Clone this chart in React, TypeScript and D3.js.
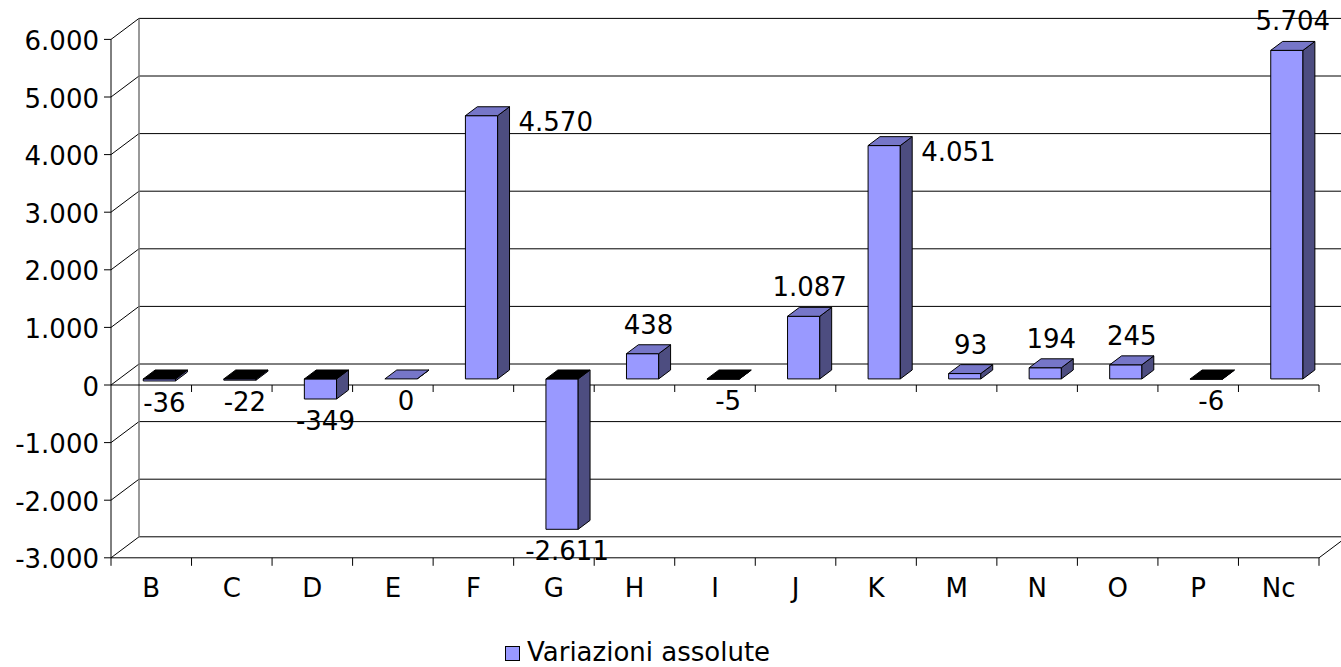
import React from "react";
import * as d3 from "d3";

const categories = ["B", "C", "D", "E", "F", "G", "H", "I", "J", "K", "M", "N", "O", "P", "Nc"];
const values = [-36, -22, -349, 0, 4570, -2611, 438, -5, 1087, 4051, 93, 194, 245, -6, 5704];
const labelsBeside = ["F", "K"];
const yTicks = [-3000, -2000, -1000, 0, 1000, 2000, 3000, 4000, 5000, 6000];
const seriesName = "Variazioni assolute";

const W = 1341;
const H = 667;
const DX = 28; // depth offset of the back wall
const DY = -21;
const F0 = 0.29; // bar front depth fraction
const DF = 0.425; // bar depth fraction
const FONT = "'DejaVu Sans', Verdana, sans-serif";
const FS = 26;

const FRONT = "#9999FF";
const TOP = "#7676C8";
const SIDE = "#4D4D80";

const locale = d3.formatLocale({
  decimal: ",",
  thousands: ".",
  grouping: [3],
  currency: ["€", ""],
  minus: "-",
});
const fmt = locale.format(",d");

export default function App() {
  const x = d3.scaleBand<string>().domain(categories).range([111, 1319]).padding(0);
  const y = d3.scaleLinear().domain([-3000, 6000]).range([557.8, 39.4]);
  const bw = x.bandwidth();
  const xL = 111;
  const xR = 1319;
  const yMin = y(-3000);
  const yMax = y(6000);
  const y0 = y(0);

  const ddx = DX * DF;
  const ddy = DY * DF;

  const bars = categories.map((c, i) => {
    const v = values[i];
    const bx0 = (x(c) as number) + bw * 0.3 + DX * F0;
    const bx1 = bx0 + bw * 0.4;
    const yt = y(Math.max(v, 0)) + DY * F0;
    const yb = y(Math.min(v, 0)) + DY * F0;
    return { c, v, bx0, bx1, yt, yb };
  });

  return (
    <svg
      width={W}
      height={H}
      style={{ position: "absolute", left: 0, top: 0, background: "#fff" }}
      fontFamily={FONT}
    >
      <rect x={0} y={0} width={W} height={H} fill="#fff" />
      {/* back wall gridlines */}
      {yTicks.map((t) => (
        <line key={"g" + t} x1={xL + DX} x2={xR + DX} y1={y(t) + DY} y2={y(t) + DY} stroke="#000" strokeWidth={1} />
      ))}
      {/* left wall diagonals */}
      {yTicks.map((t) => (
        <line key={"d" + t} x1={xL} x2={xL + DX} y1={y(t)} y2={y(t) + DY} stroke="#000" strokeWidth={1} />
      ))}
      {/* left wall back edge */}
      <line x1={xL + DX} x2={xL + DX} y1={yMax + DY} y2={yMin + DY} stroke="#777" strokeWidth={1.5} />
      {/* floor */}
      <line x1={xL} x2={xR} y1={yMin} y2={yMin} stroke="#000" />
      <line x1={xR} x2={xR + DX} y1={yMin} y2={yMin + DY} stroke="#000" />
      {/* front y axis */}
      <line x1={xL} x2={xL} y1={yMax} y2={yMin} stroke="#000" />
      {yTicks.map((t) => (
        <g key={"t" + t}>
          <line x1={xL - 7} x2={xL} y1={y(t)} y2={y(t)} stroke="#000" />
          <text x={99} y={y(t) + 10.5} textAnchor="end" fontSize={FS} fill="#000">
            {fmt(t)}
          </text>
        </g>
      ))}
      {/* zero plane front line */}
      <line x1={xL} x2={xR} y1={y0} y2={y0} stroke="#000" />
      {/* category ticks */}
      {categories.concat(["__end"]).map((c, i) => {
        const tx = xL + i * bw;
        return (
          <g key={"ct" + i}>
            {i > 0 && <line x1={tx} x2={tx} y1={y0} y2={y0 + 7} stroke="#000" />}
            <line x1={tx} x2={tx} y1={yMin} y2={yMin + 8} stroke="#000" />
          </g>
        );
      })}
      {/* category labels */}
      {categories.map((c) => (
        <text key={"cl" + c} x={(x(c) as number) + bw / 2} y={597} textAnchor="middle" fontSize={FS} fill="#000">
          {c}
        </text>
      ))}
      {/* bars */}
      {bars.map((b) => (
        <g key={"b" + b.c} stroke="#000" strokeWidth={1} strokeLinejoin="round">
          <rect x={b.bx0} y={b.yt} width={b.bx1 - b.bx0} height={Math.max(b.yb - b.yt, 0)} fill={FRONT} />
          <polygon
            points={[
              [b.bx1, b.yt],
              [b.bx1 + ddx, b.yt + ddy],
              [b.bx1 + ddx, b.yb + ddy],
              [b.bx1, b.yb],
            ]
              .map((p) => p.join(","))
              .join(" ")}
            fill={SIDE}
          />
          <polygon
            points={[
              [b.bx0, b.yt],
              [b.bx0 + ddx, b.yt + ddy],
              [b.bx1 + ddx, b.yt + ddy],
              [b.bx1, b.yt],
            ]
              .map((p) => p.join(","))
              .join(" ")}
            fill={b.v < 0 ? "#000" : TOP}
          />
        </g>
      ))}
      {/* data labels */}
      {bars.map((b) => {
        if (labelsBeside.includes(b.c)) {
          return (
            <text key={"l" + b.c} x={b.bx1 + ddx + 9} y={b.yt + 15} textAnchor="start" fontSize={FS} fill="#000">
              {fmt(b.v)}
            </text>
          );
        }
        if (b.v > 0) {
          return (
            <text key={"l" + b.c} x={(b.bx0 + b.bx1 + ddx) / 2} y={b.yt + ddy - 11} textAnchor="middle" fontSize={FS} fill="#000">
              {fmt(b.v)}
            </text>
          );
        }
        return (
          <text key={"l" + b.c} x={(b.bx0 + b.bx1) / 2 + 5} y={b.yb + 31} textAnchor="middle" fontSize={FS} fill="#000">
            {fmt(b.v)}
          </text>
        );
      })}
      {/* legend */}
      <rect x={505.5} y={646.5} width={14} height={14} fill={FRONT} stroke="#000" />
      <text x={527} y={661} fontSize={FS} fill="#000">
        {seriesName}
      </text>
    </svg>
  );
}
